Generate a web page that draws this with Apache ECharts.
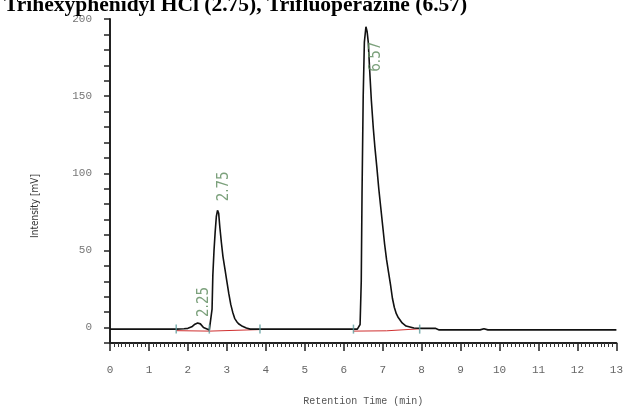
<!DOCTYPE html>
<html>
<head>
<meta charset="utf-8">
<script src="https://cdn.jsdelivr.net/npm/echarts@6/dist/echarts.min.js"></script>
<style>
	html, body { margin: 0; padding: 0; background: #fff; }
	#main { width: 626px; height: 411px; }
</style>
</head>
<body>
<div id="main"></div>
<script>
// 色谱信号（时间 min / 强度 mV）
const signalTime = [0, 1.6, 1.7, 1.9, 2.0, 2.1, 2.18, 2.25, 2.32, 2.4, 2.45, 2.55, 2.6, 2.62, 2.64, 2.67, 2.7, 2.73, 2.76, 2.79, 2.82, 2.86, 2.9, 2.95, 3.0, 3.05, 3.1, 3.15, 3.2, 3.25, 3.3, 3.4, 3.5, 3.6, 3.85, 6.25, 6.35, 6.42, 6.45, 6.47, 6.5, 6.53, 6.57, 6.6, 6.63, 6.67, 6.71, 6.76, 6.8, 6.85, 6.9, 6.95, 7.0, 7.05, 7.1, 7.15, 7.2, 7.25, 7.3, 7.35, 7.4, 7.5, 7.6, 7.8, 8.0, 8.35, 8.45, 9.5, 9.6, 9.7, 13];
const signalValue = [-1, -1, -1, -0.8, -0.5, 0.5, 2.2, 3, 2.4, 0, -1, -1.5, -1.5, 12, 34, 50, 62, 72, 76, 74, 65, 55, 46, 38, 30, 22, 15, 10, 6, 4, 2.5, 0.8, -0.3, -1, -1, -1, -1, 2, 30, 87, 150, 185, 195, 192, 185, 165, 147, 129, 117, 104, 90, 78, 66, 54, 44, 36, 28, 19, 13, 9, 6.5, 3, 1, -0.3, -0.5, -0.5, -1.5, -1.5, -0.7, -1.5, -1.5];

// 积分基线（红线），null 断开
const baseTime = [1.7, 2.55, 3.85, null, 6.25, 7.1, 7.15, 7.95];
const baseValue = [-2, -2.3, -1.3, null, -2.3, -2.1, -1.3, -0.8];

// 峰起止标记
const markTime = [1.7, 2.55, 3.85, 6.25, 7.95];

// 峰保留时间与峰高
const peakTime = [2.25, 2.75, 6.57];
const peakHeight = [3, 76, 195];

const titleText = 'Trihexyphenidyl HCl (2.75), Trifluoperazine (6.57)';

const chart = echarts.init(document.getElementById('main'), null, { renderer: 'canvas' });

const zip = (xs, ys) => xs.map((x, i) => x === null ? [null, null] : [x, ys[i]]);

// 标签位置微调（旋转后：[向上, 向右]）
const labelOffset = [[21, 6], [24, 7], [-30, 10]];

chart.setOption({
	animation: false,
	backgroundColor: '#fff',
	title: {
		text: titleText,
		left: -1,
		top: -11,
		textStyle: {
			fontFamily: 'Liberation Serif',
			fontWeight: 'bold',
			fontSize: 21.5,
			color: '#000'
		}
	},
	grid: {
		left: 110,
		right: 7,
		top: 19,
		bottom: 65
	},
	xAxis: {
		type: 'value',
		min: 0,
		max: 13,
		interval: 1,
		name: 'Retention Time (min)',
		nameLocation: 'middle',
		nameGap: 53,
		nameTextStyle: { fontFamily: 'Liberation Mono', fontSize: 10, color: '#555' },
		axisLine: { onZero: false, lineStyle: { color: '#222', width: 2 } },
		axisTick: { length: 8, lineStyle: { color: '#222', width: 1.5 } },
		minorTick: { show: true, splitNumber: 10, length: 4, lineStyle: { color: '#333', width: 1 } },
		splitLine: { show: false },
		axisLabel: { margin: 22, fontFamily: 'Liberation Mono', fontSize: 11, color: '#666' }
	},
	yAxis: {
		type: 'value',
		min: -10,
		max: 200,
		interval: 10,
		name: 'Intensity [mV]',
		nameLocation: 'middle',
		nameGap: 70,
		nameTextStyle: {
			fontFamily: 'DejaVu Sans Condensed, DejaVu Sans',
			fontSize: 10,
			color: '#333',
			padding: [0, 50, 0, 0]
		},
		axisLine: { lineStyle: { color: '#222', width: 2 } },
		axisTick: { length: 6, lineStyle: { color: '#222', width: 1.5 } },
		splitLine: { show: false },
		axisLabel: {
			margin: 18,
			fontFamily: 'Liberation Mono',
			fontSize: 11,
			color: '#777',
			formatter: v => (v % 50 === 0 ? String(v) : '')
		}
	},
	series: [
		{
			name: 'signal',
			type: 'line',
			data: zip(signalTime, signalValue),
			symbol: 'none',
			lineStyle: { color: '#111', width: 1.6 },
			z: 3
		},
		{
			name: 'baseline',
			type: 'line',
			data: zip(baseTime, baseValue),
			symbol: 'none',
			connectNulls: false,
			lineStyle: { color: '#d03030', width: 1 },
			z: 2
		},
		{
			name: 'marks',
			type: 'scatter',
			data: markTime.map(t => [t, -1]),
			symbol: 'rect',
			symbolSize: [1.5, 9],
			itemStyle: { color: '#5f9e9e' },
			z: 4
		},
		{
			name: 'peaks',
			type: 'scatter',
			data: peakTime.map((t, i) => ({
				value: [t, peakHeight[i]],
				label: { offset: labelOffset[i] }
			})),
			symbolSize: 0,
			label: {
				show: true,
				position: 'inside',
				rotate: 90,
				fontFamily: 'Liberation Sans Narrow, DejaVu Sans Condensed, Liberation Sans',
				fontSize: 15,
				color: '#5b8a5b',
				formatter: p => p.value[0].toFixed(2)
			},
			z: 5
		}
	]
});
</script>
</body>
</html>
